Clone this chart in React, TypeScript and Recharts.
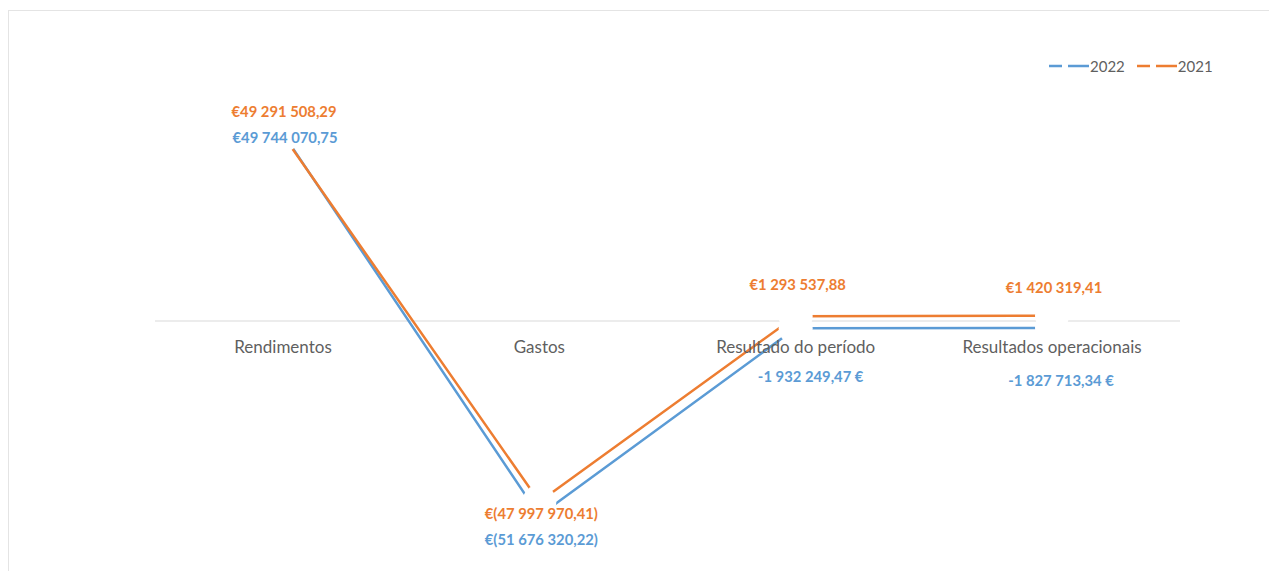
import React from "react"
import { ComposedChart, Line, Scatter, XAxis, YAxis, ReferenceLine, LabelList } from "recharts"

const categories = ["Rendimentos", "Gastos", "Resultado do período", "Resultados operacionais"]
const values2022 = [49744070.75, -51676320.22, -1932249.47, -1827713.34]
const values2021 = [49291508.29, -47997970.41, 1293537.88, 1420319.41]
// how each data label is written (Excel mixed two number formats)
const formats2022 = ["acc", "acc", "sfx", "sfx"]
const formats2021 = ["acc", "acc", "acc", "acc"]
const seriesNames = ["2022", "2021"]

const BLUE = "#5b9bd5"
const ORANGE = "#ed7d31"
const GREY_TEXT = "#5f5f5f"
const FONT = "Lato, 'Open Sans', sans-serif"

const W = 1269
const H = 571
const MARGIN = { top: 95, right: 89, bottom: 0, left: 155 }
const XAXIS_H = 24
const ZERO_Y = MARGIN.top + (H - MARGIN.top - MARGIN.bottom - XAXIS_H) / 2

// label placement relative to each point (dx, dy)
const offsets2022 = [[2, 3], [2, 23], [15, 48], [9, 52]]
const offsets2021 = [[1, -24], [2, 11], [2, -32], [2, -29]]

const data = categories.map((name, i) => ({ name, v2022: values2022[i], v2021: values2021[i] }))

const group = (n: number) => {
  const [int, dec] = Math.abs(n).toFixed(2).split(".")
  return int.replace(/\B(?=(\d{3})+(?!\d))/g, " ") + "," + dec
}

const fmt = (v: number, kind: string) => {
  if (kind === "sfx") return (v < 0 ? "-" : "") + group(v) + " €"
  return v < 0 ? "€(" + group(v) + ")" : "€" + group(v)
}

const makeLabel = (formats: string[], offsets: number[][], color: string) => (props: any) => {
  const { x, y, value, index } = props
  const [dx, dy] = offsets[index]
  return (
    <text x={x + dx} y={y + dy} fill={color} fontFamily={FONT} fontSize={14.8} fontWeight={700}
      textAnchor="middle" dominantBaseline="central">
      {fmt(value, formats[index])}
    </text>
  )
}

const CategoryTick = (props: any) => (
  <text x={props.x} y={ZERO_Y + 25} fill={GREY_TEXT} fontFamily={FONT} fontSize={17}
    textAnchor="middle" dominantBaseline="central">
    {props.payload.value}
  </text>
)

// white marker that breaks the lines around every point, as in the original
const Cover = (props: any) => <circle cx={props.cx} cy={props.cy} r={17} fill="#fff" />

const LegendItem = ({ color, label }: { color: string; label: string }) => (
  <div style={{ display: "flex", alignItems: "center", marginLeft: 12 }}>
    <svg width={40} height={6}>
      <line x1={0} y1={3} x2={40} y2={3} stroke={color} strokeWidth={2.5} strokeDasharray="13 6 21 0" />
    </svg>
    <span style={{ marginLeft: 1, color: GREY_TEXT, fontFamily: FONT, fontSize: 15 }}>{label}</span>
  </div>
)

export default function App() {
  return (
    <div style={{ position: "absolute", left: 0, top: 0, width: W, height: H, background: "#fff" }}>
      <div style={{ position: "absolute", left: 8, top: 10, right: 0, bottom: 0,
        borderTop: "1px solid #e4e4e4", borderLeft: "1px solid #e4e4e4" }} />
      <ComposedChart width={W} height={H} data={data} margin={MARGIN} style={{ position: "absolute", left: 0, top: 0 }}>
        <XAxis dataKey="name" height={XAXIS_H} padding={{ left: 128, right: 128 }}
          axisLine={false} tickLine={false} tick={<CategoryTick />} interval={0} />
        <YAxis hide domain={[-60000000, 60000000]} />
        <ReferenceLine y={0} stroke="#d9d9d9" strokeWidth={1.2} zIndex={350} />
        <Line dataKey="v2022" stroke={BLUE} strokeWidth={2.5} dot={false} activeDot={false} isAnimationActive={false} />
        <Line dataKey="v2021" stroke={ORANGE} strokeWidth={2.5} dot={false} activeDot={false} isAnimationActive={false} />
        <Scatter dataKey="v2022" shape={<Cover />} isAnimationActive={false} />
        <Scatter dataKey="v2021" shape={<Cover />} isAnimationActive={false} />
        <Line dataKey="v2022" stroke="none" dot={false} activeDot={false} isAnimationActive={false}>
          <LabelList dataKey="v2022" content={makeLabel(formats2022, offsets2022, BLUE)} />
        </Line>
        <Line dataKey="v2021" stroke="none" dot={false} activeDot={false} isAnimationActive={false}>
          <LabelList dataKey="v2021" content={makeLabel(formats2021, offsets2021, ORANGE)} />
        </Line>
      </ComposedChart>
      <div style={{ position: "absolute", left: 1037, top: 57, display: "flex" }}>
        <LegendItem color={BLUE} label={seriesNames[0]} />
        <LegendItem color={ORANGE} label={seriesNames[1]} />
      </div>
    </div>
  )
}
